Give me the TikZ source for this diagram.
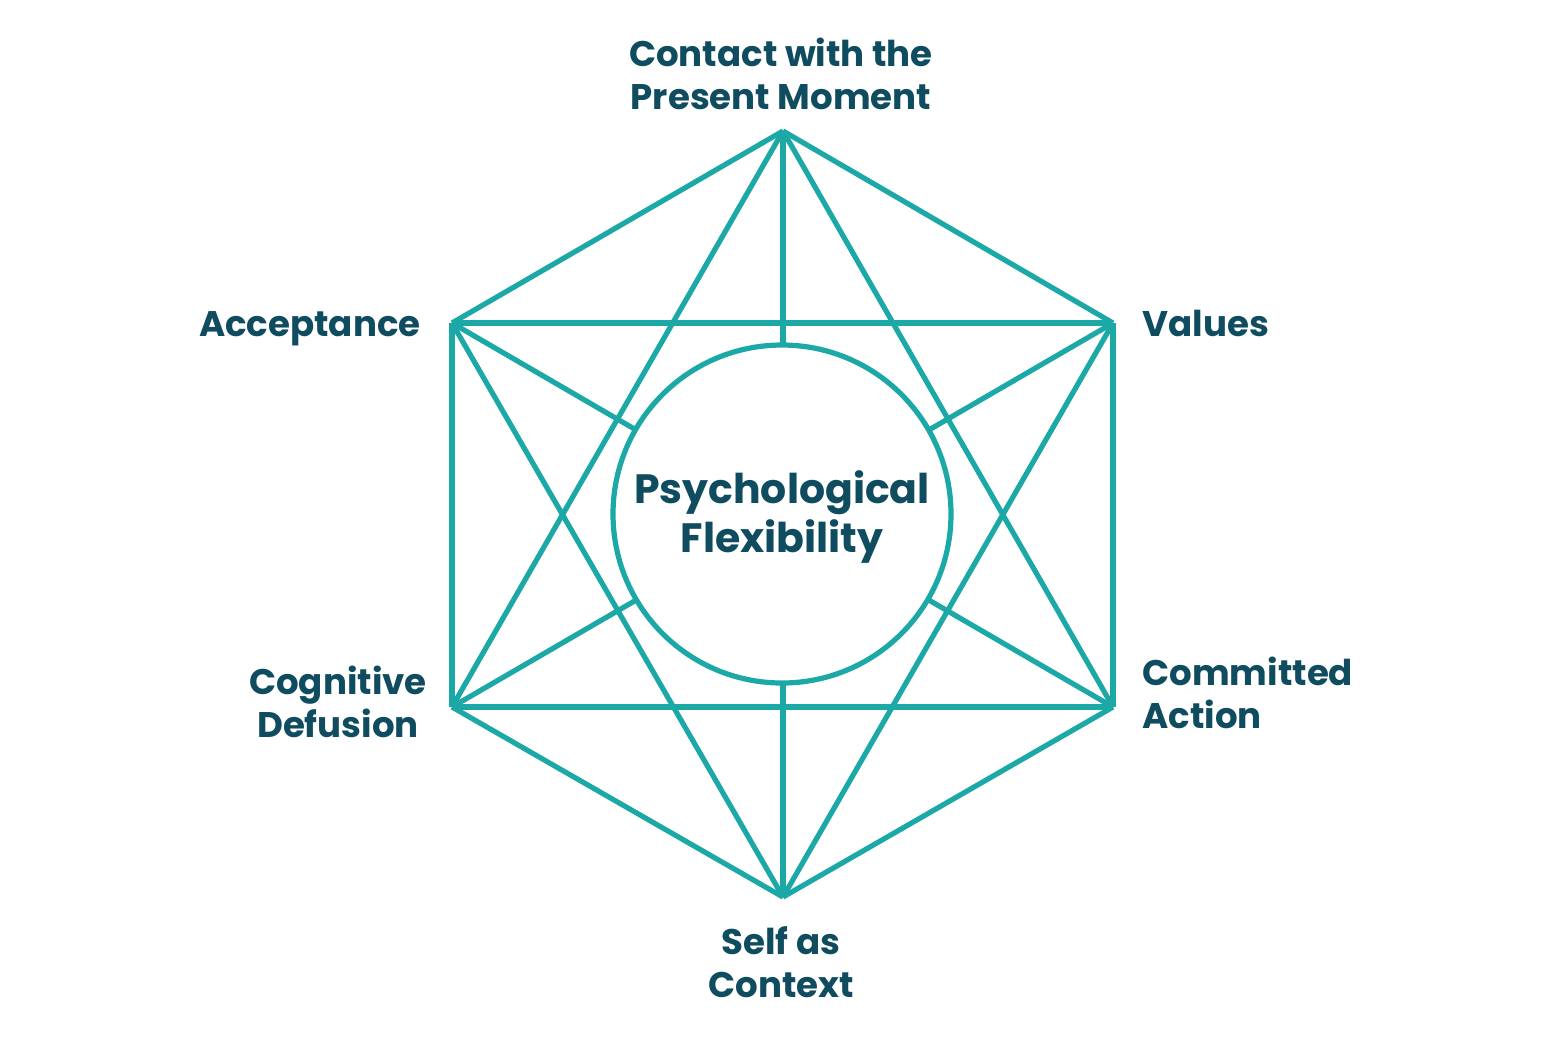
\documentclass[tikz,border=0pt]{standalone}
\usepackage{fontspec}
\setmainfont{Poppins}
\definecolor{teal1}{HTML}{1BA8A6}
\definecolor{navy1}{HTML}{0F4C60}
\begin{document}
\begin{tikzpicture}[x=0.5pt,y=-0.5pt,
  edge/.style={draw=teal1,line width=2.6pt},
  lbl/.style={text=navy1,font=\fontsize{17.8}{21.5}\selectfont\bfseries,inner sep=0pt,align=center},
  mid/.style={text=navy1,font=\fontsize{20.5}{24.5}\selectfont\bfseries,inner sep=0pt,align=center}]
\useasboundingbox[fill=white] (0,0) rectangle (1562,1046);
\coordinate (T) at (783,131);
\coordinate (UR) at (1113,323);
\coordinate (LR) at (1113,707);
\coordinate (B) at (783,897);
\coordinate (LL) at (452,707);
\coordinate (UL) at (452,323);
\foreach \a/\b in {T/UR,UR/LR,LR/B,B/LL,LL/UL,UL/T,T/B,UR/LL,UL/LR,T/LL,T/LR,UL/UR,LL/LR,UL/B,UR/B}
  \draw[edge] (\a) -- (\b);
\node[circle,draw=teal1,line width=2.6pt,fill=white,minimum size=338*0.5pt,inner sep=0pt] (C) at (782,514) {};
\node[mid,anchor=base] (PF) at (782,552) {Psychological\\Flexibility};
\node[lbl,anchor=base] (Lt) at (781,109) {Contact with the\\Present Moment};
\node[lbl,anchor=base east] (La) at (421,336) {Acceptance};
\node[lbl,anchor=base west] (Lv) at (1142,336) {Values};
\node[lbl,anchor=base] (Lc) at (338,737) {Cognitive\\Defusion};
\node[lbl,anchor=base west,align=left] (Lm) at (1142,728) {Committed\\Action};
\node[lbl,anchor=base] (Ls) at (781,997) {Self as\\Context};
\end{tikzpicture}
\end{document}
